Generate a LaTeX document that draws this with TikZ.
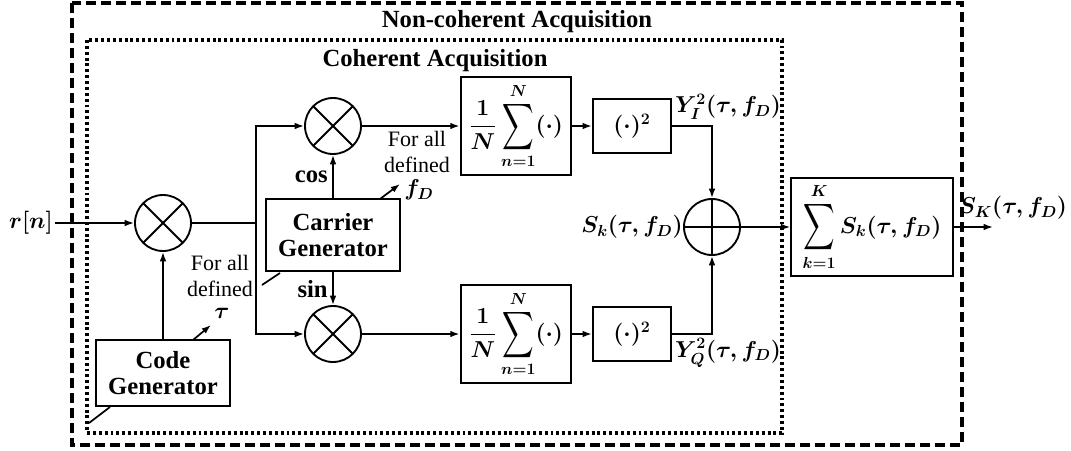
\documentclass[tikz,border=0pt]{standalone}
\usepackage{amsmath}
\usepackage{bm}
\usepackage{fontspec}
\setmainfont{Liberation Serif}
\usetikzlibrary{arrows.meta}
\newcommand{\bigSum}{\mathop{\vcenter{\hbox{\scalebox{0.95}[1.4]{$\displaystyle\sum$}}}}\limits}

\begin{document}
\begin{tikzpicture}[x=0.75pt, y=-0.75pt, >={Latex[length=7pt,width=5pt]}, line width=1.3pt,
    block/.style={draw, line width=1.6pt, align=center, inner sep=2pt, font=\boxFont\bfseries},
    sumbox/.style={draw, line width=1.6pt, inner sep=1pt, minimum width=83pt, minimum height=73.5pt, font=\boxFont\boldmath},
    sqbox/.style={draw, line width=1.6pt, minimum width=58.5pt, minimum height=41pt, font=\boxFont\boldmath},
    mixer/.style={circle, draw, line width=1.4pt, minimum size=42pt, inner sep=0pt,
        path picture={\draw[line width=1.4pt] (path picture bounding box.north west) -- (path picture bounding box.south east)
            (path picture bounding box.north east) -- (path picture bounding box.south west);}},
    adder/.style={circle, draw, line width=1.4pt, minimum size=42pt, inner sep=0pt,
        path picture={\draw[line width=1.4pt] (path picture bounding box.north) -- (path picture bounding box.south)
            (path picture bounding box.west) -- (path picture bounding box.east);}},
    mathlabel/.style={inner sep=1pt, font=\boxFont\boldmath},
    note/.style={align=center, inner sep=0pt, font=\noteFont}]
    \def\boxFont{\fontsize{18.5}{21}\selectfont}
    \def\noteFont{\fontsize{16.5}{19.5}\selectfont}

    \useasboundingbox (0,0) rectangle (1071,450);

    % Draw frames
    \draw[line width=2.6pt, dash pattern=on 7.5pt off 3.75pt] (72,3) rectangle (962,445);
    \draw[line width=2.4pt, dash pattern=on 2.2pt off 2.2pt] (87,40) rectangle (782,433);
    \node[font=\boxFont\bfseries] (nonCohTitle) at (517,22) {Non-coherent Acquisition};
    \node[font=\boxFont\bfseries] (cohTitle) at (435,61) {Coherent Acquisition};

    % Place blocks
    \node[mathlabel] (rLabel) at (31,223) {$r[n]$};
    \node[mixer] (mixIn) at (163,223) {};
    \node[block, minimum width=101pt, minimum height=50pt] (codeGen) at (163,373) {Code\\[-2pt]Generator};
    \node[block, minimum width=100pt, minimum height=54pt] (carrierGen) at (333,235) {Carrier\\[-2pt]Generator};
    \node[mixer] (mixCos) at (333,126) {};
    \node[mixer] (mixSin) at (333,334) {};
    \node[sumbox] (accI) at (516,126) {$\dfrac{1}{N}\bigSum_{n=1}^{N}(\cdot)$};
    \node[sumbox] (accQ) at (516,334) {$\dfrac{1}{N}\bigSum_{n=1}^{N}(\cdot)$};
    \node[sqbox] (sqI) at (632,126) {$(\cdot)^2$};
    \node[sqbox] (sqQ) at (632,334) {$(\cdot)^2$};
    \node[adder] (add) at (712,227) {};
    \node[sumbox, minimum width=121pt] (nonCohSum) at (872,227) {$\bigSum_{k=1}^{K}S_k(\tau,f_D)$};
    \coordinate (split) at (256,223);
    \coordinate (out) at (993,227);

    % Draw connectors
    \draw[->] (rLabel) -- (mixIn);
    \draw[->] (codeGen) -- (mixIn);
    \draw (mixIn) -- (split);
    \draw[->] (split) |- (mixCos);
    \draw[->] (split) |- (mixSin);
    \draw[->] (carrierGen) -- (mixCos) node[midway, left, font=\boxFont\bfseries] {cos};
    \draw[->] (carrierGen) -- (mixSin) node[midway, left, font=\boxFont\bfseries] {sin};
    \draw[->] (mixCos) -- (accI);
    \draw[->] (mixSin) -- (accQ);
    \draw[->] (accI) -- (sqI);
    \draw[->] (accQ) -- (sqQ);
    \draw[->] (sqI) -| (add);
    \draw[->] (sqQ) -| (add);
    \draw[->] (add) -- (nonCohSum);
    \draw[->] (nonCohSum) -- (out);

    % Label signals
    \node[mathlabel] (yI) at (728,107) {$Y_I^2(\tau,f_D)$};
    \node[mathlabel] (yQ) at (728,353) {$Y_Q^2(\tau,f_D)$};
    \node[mathlabel] (sk) at (632,227) {$S_k(\tau,f_D)$};
    \node[mathlabel] (sK) at (1013,208) {$S_K(\tau,f_D)$};

    % Search over delay and Doppler
    \node[note] (tauNote) at (220,276) {For all\\defined};
    \node[mathlabel] (tau) at (222,313) {$\tau$};
    \node[note] (fdNote) at (417,152) {For all\\defined};
    \node[mathlabel] (fd) at (419,190) {$f_D$};
    \coordinate (tauFoot) at (193,340);
    \coordinate (tauTip) at (211,325);
    \coordinate (fdFoot) at (380,199);
    \coordinate (fdTip) at (400,184);
    \draw[->] (tauFoot) -- (tauTip);
    \draw[->] (fdFoot) -- (fdTip);
    \draw (280,273) -- (262,285);
    \draw (110,407) -- (89,423);

\end{tikzpicture}
\end{document}
